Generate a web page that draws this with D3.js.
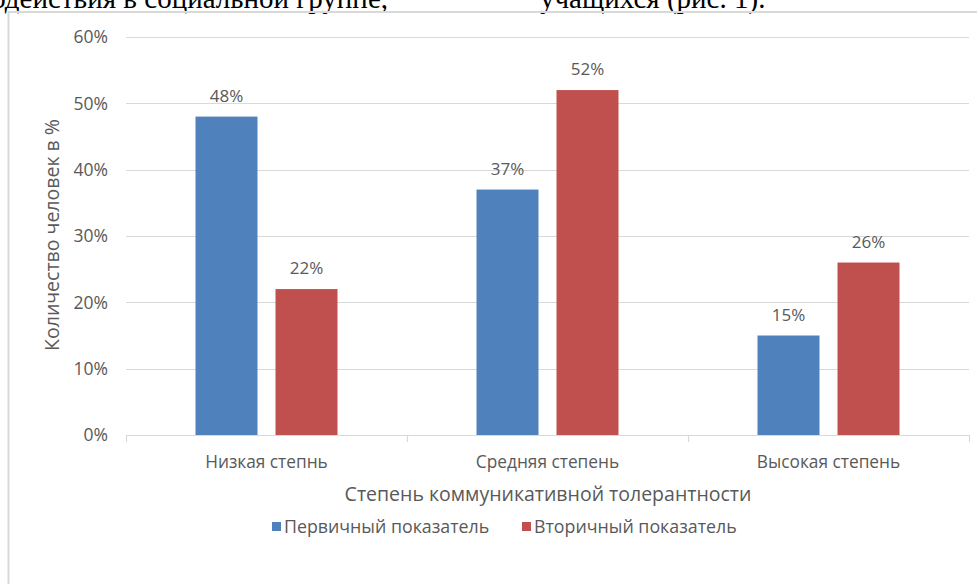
<!DOCTYPE html>
<html>
<head>
<meta charset="utf-8">
<script src="https://cdn.jsdelivr.net/npm/d3@7"></script>
<style>
  body { margin: 0; background: #fff; }
  svg { display: block; }
  text { font-family: "Open Sans", sans-serif; fill: #595959; }
</style>
</head>
<body>
<div id="chart"></div>
<script>
var width = 977
var height = 584

// data
var categories = ["Низкая степнь", "Средняя степень", "Высокая степень"]
var seriesNames = ["Первичный показатель", "Вторичный показатель"]
var primary = [48, 37, 15]
var secondary = [22, 52, 26]
var yTicks = [0, 10, 20, 30, 40, 50, 60]
var colors = ["#4f81bd", "#c0504d"]

var svg = d3.select("#chart")
    .append("svg")
    .attr("width", width)
    .attr("height", height)

// cut off line of the document text above the chart
svg.append("text")
    .attr("x", 388).attr("y", 8)
    .attr("text-anchor", "end")
    .style("font-family", "'Liberation Serif', serif")
    .style("font-size", "29px")
    .style("fill", "#000")
    .text("взаимодействия в социальной группе,")
svg.append("text")
    .attr("x", 540).attr("y", 8)
    .style("font-family", "'Liberation Serif', serif")
    .style("font-size", "29px")
    .style("fill", "#000")
    .text("учащихся (рис. 1).")

// chart frame
svg.append("rect")
    .attr("x", 8.5).attr("y", 12)
    .attr("width", 980).attr("height", 600)
    .attr("fill", "none")
    .attr("stroke", "#d9d9d9")
    .attr("stroke-width", 2)

var plotLeft = 126, plotRight = 969, plotTop = 37, plotBottom = 435

var x0 = d3.scaleBand()
    .domain(categories)
    .range([plotLeft, plotRight])
    .paddingInner(0)
    .paddingOuter(0)

var x1 = d3.scaleBand()
    .domain([0, 1])
    .range([69.5, x0.bandwidth() - 69.5])
    .paddingInner(0.225)

var y = d3.scaleLinear()
    .domain([0, 60])
    .range([plotBottom, plotTop])

// gridlines
svg.append("g")
    .selectAll("line")
    .data(yTicks.filter(function (d) { return d > 0 }))
    .enter()
    .append("line")
    .attr("x1", plotLeft).attr("x2", plotRight)
    .attr("y1", function (d) { return Math.round(y(d)) + 0.5 })
    .attr("y2", function (d) { return Math.round(y(d)) + 0.5 })
    .attr("stroke", "#d9d9d9")
    .attr("stroke-width", 1.2)

// y tick labels
svg.append("g")
    .selectAll("text")
    .data(yTicks)
    .enter()
    .append("text")
    .attr("x", 108)
    .attr("y", function (d) { return y(d) })
    .attr("dy", "0.36em")
    .attr("text-anchor", "end")
    .style("font-size", "17.5px")
    .text(function (d) { return d + "%" })

// bars
var groups = svg.append("g")
    .selectAll("g")
    .data(categories)
    .enter()
    .append("g")
    .attr("transform", function (d) { return "translate(" + x0(d) + ",0)" })

groups.selectAll("rect")
    .data(function (d, i) { return [primary[i], secondary[i]] })
    .enter()
    .append("rect")
    .attr("x", function (d, j) { return x1(j) })
    .attr("width", x1.bandwidth())
    .attr("y", function (d) { return y(d) })
    .attr("height", function (d) { return plotBottom - y(d) })
    .attr("fill", function (d, j) { return colors[j] })

groups.selectAll("text.lbl")
    .data(function (d, i) { return [primary[i], secondary[i]] })
    .enter()
    .append("text")
    .attr("class", "lbl")
    .attr("x", function (d, j) { return x1(j) + x1.bandwidth() / 2 })
    .attr("y", function (d) { return y(d) - 15 })
    .attr("text-anchor", "middle")
    .style("font-size", "17px")
    .text(function (d) { return d + "%" })

// x axis line and ticks
var xa = svg.append("g")
xa.append("line")
    .attr("x1", plotLeft).attr("x2", plotRight)
    .attr("y1", plotBottom + 0.5).attr("y2", plotBottom + 0.5)
    .attr("stroke", "#d9d9d9").attr("stroke-width", 1.2)
xa.selectAll("line.tick")
    .data([plotLeft].concat(categories.map(function (c) { return x0(c) + x0.bandwidth() })))
    .enter()
    .append("line")
    .attr("class", "tick")
    .attr("x1", function (d) { return Math.round(d) + 0.5 })
    .attr("x2", function (d) { return Math.round(d) + 0.5 })
    .attr("y1", plotBottom).attr("y2", plotBottom + 7)
    .attr("stroke", "#d9d9d9").attr("stroke-width", 1.2)

xa.selectAll("text")
    .data(categories)
    .enter()
    .append("text")
    .attr("x", function (d) { return x0(d) + x0.bandwidth() / 2 })
    .attr("y", 468)
    .attr("text-anchor", "middle")
    .style("font-size", "17.3px")
    .text(function (d) { return d })

// axis titles
svg.append("text")
    .attr("x", 548).attr("y", 501)
    .attr("text-anchor", "middle")
    .style("font-size", "19.5px")
    .text("Степень коммуникативной толерантности")

svg.append("text")
    .attr("transform", "translate(59,235) rotate(-90)")
    .attr("text-anchor", "middle")
    .style("font-size", "19.5px")
    .text("Количество человек в %")

// legend
var legendX = [272, 522]
var legend = svg.append("g")
    .selectAll("g")
    .data(seriesNames)
    .enter()
    .append("g")
    .attr("transform", function (d, i) { return "translate(" + legendX[i] + ",522)" })
legend.append("rect")
    .attr("width", 9).attr("height", 9)
    .attr("fill", function (d, i) { return colors[i] })
legend.append("text")
    .attr("x", 12).attr("y", 5)
    .attr("dy", "0.36em")
    .style("font-size", "17.8px")
    .text(function (d) { return d })
</script>
</body>
</html>
